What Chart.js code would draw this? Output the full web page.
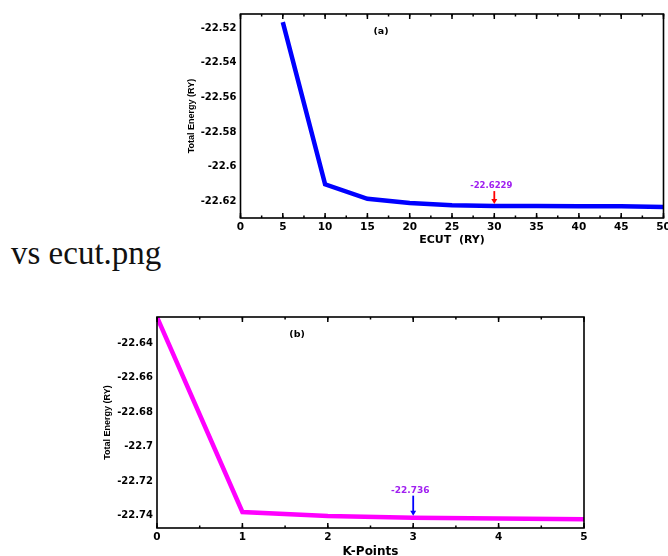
<!DOCTYPE html>
<html lang="en">
<head>
    <meta charset="UTF-8">
    <title>Total Energy vs ECUT / K-Points</title>
    <script src="https://cdn.jsdelivr.net/npm/chart.js"></script>
    <style>
        body { margin: 0; background: #fff; width: 668px; height: 556px; overflow: hidden; position: relative; }
        #ecutChart { position: absolute; left: 180px; top: 0; }
        #kChart { position: absolute; left: 95px; top: 305px; }
        .alt {
            position: absolute; left: 11px; top: 237px;
            font-family: "Liberation Serif", serif; font-size: 33px; color: #111;
            line-height: 1;
        }
    </style>
</head>
<body>
    <canvas id="ecutChart" width="488" height="250"></canvas>
    <div class="alt">vs ecut.png</div>
    <canvas id="kChart" width="505" height="256"></canvas>

    <script>
        // (a) total energy vs cutoff energy
        const ecutValues = [5, 10, 15, 20, 25, 30, 35, 40, 45, 50];
        const ecutEnergy = [-22.5164, -22.6103, -22.6187, -22.6211, -22.6224, -22.6229, -22.6229, -22.6230, -22.6230, -22.6235];
        const ecutNote = { x: 30, label: '-22.6229' };

        // (b) total energy vs k-points
        const kValues = [0, 1, 2, 3, 4, 5];
        const kEnergy = [-22.6248, -22.7378, -22.7401, -22.7411, -22.7416, -22.7420];
        const kNote = { x: 3, label: '-22.736' };

        Chart.defaults.font.family = 'DejaVu Sans';
        Chart.defaults.color = '#000';

        function fmt(v) {
            return String(Number(v.toFixed(4)));
        }

        // inward ticks on all four sides, frame, arrow note and panel letter
        const framePlugin = {
            id: 'frame',
            afterDatasetsDraw(chart, args, opts) {
                const { ctx, chartArea: a, scales: { x, y } } = chart;
                ctx.save();
                ctx.strokeStyle = '#000';
                ctx.lineWidth = 1.5;

                function seg(x1, y1, x2, y2) {
                    ctx.beginPath();
                    ctx.moveTo(x1, y1);
                    ctx.lineTo(x2, y2);
                    ctx.stroke();
                }

                function marks(scale, step, len) {
                    for (let v = scale.min; v <= scale.max + 1e-9; v += step / 10) {
                        const r = Math.round(v / step);
                        if (Math.abs(v - r * step) > step * 1e-3) continue;
                        const val = r * step;
                        if (val < scale.min - 1e-9 || val > scale.max + 1e-9) continue;
                        const p = scale.getPixelForValue(val);
                        if (scale.axis === 'x') {
                            seg(p, a.bottom, p, a.bottom - len);
                            seg(p, a.top, p, a.top + len);
                        } else {
                            seg(a.left, p, a.left + len, p);
                            seg(a.right, p, a.right - len, p);
                        }
                    }
                }
                marks(x, opts.xMinor, 2.5);
                marks(x, opts.xMajor, 5);
                marks(y, opts.yMinor, 4);
                marks(y, opts.yMajor, 5);

                ctx.lineWidth = 1.6;
                ctx.strokeRect(a.left, a.top, a.right - a.left, a.bottom - a.top);

                // note with arrow
                const note = opts.note;
                const ds = chart.data.datasets[0];
                const idx = chart.data.labels.indexOf(note.x);
                const px = x.getPixelForValue(note.x);
                const py = y.getPixelForValue(ds.data[idx]);
                const tip = py - 2;
                const tail = tip - opts.arrowLen;
                ctx.fillStyle = opts.textColor;
                ctx.font = 'bold ' + opts.noteSize + 'px DejaVu Sans';
                ctx.textAlign = 'center';
                ctx.textBaseline = 'bottom';
                ctx.fillText(note.label, px - 3, tail - 1);
                ctx.strokeStyle = opts.arrowColor;
                ctx.fillStyle = opts.arrowColor;
                ctx.lineWidth = 1.8;
                seg(px, tail, px, tip - 4);
                ctx.beginPath();
                ctx.moveTo(px - 3, tip - 5);
                ctx.lineTo(px + 3, tip - 5);
                ctx.lineTo(px, tip);
                ctx.closePath();
                ctx.fill();

                // panel letter
                ctx.fillStyle = '#000';
                ctx.font = 'bold 9.5px DejaVu Sans';
                ctx.textBaseline = 'middle';
                ctx.fillText(opts.panel, a.left + (a.right - a.left) * opts.panelX, a.top + (a.bottom - a.top) * opts.panelY);
                ctx.restore();
            }
        };

        function makeChart(id, cfg) {
            return new Chart(document.getElementById(id), {
                type: 'line',
                data: {
                    labels: cfg.xs,
                    datasets: [{
                        data: cfg.ys,
                        borderColor: cfg.color,
                        borderWidth: 4.5,
                        pointRadius: 0,
                        tension: 0,
                        fill: false
                    }]
                },
                options: {
                    responsive: false,
                    animation: false,
                    events: [],
                    layout: { padding: cfg.padding },
                    plugins: {
                        legend: { display: false },
                        tooltip: { enabled: false },
                        frame: cfg.frame
                    },
                    scales: {
                        x: {
                            type: 'linear',
                            min: cfg.xMin, max: cfg.xMax,
                            grid: { display: false, drawTicks: false },
                            border: { display: false },
                            ticks: {
                                stepSize: cfg.frame.xMajor,
                                padding: 3,
                                maxRotation: 0,
                                autoSkip: false,
                                font: { size: 10.5, weight: 'bold' }
                            },
                            title: {
                                display: true,
                                text: cfg.xTitle,
                                font: { size: cfg.xTitleSize, weight: 'bold' },
                                padding: { top: 0, bottom: cfg.xTitlePad }
                            },
                            afterFit(s) {
                                s.height = cfg.xHeight;
                                s.paddingLeft = 0;
                                s.paddingRight = 0;
                            }
                        },
                        y: {
                            min: cfg.yMin, max: cfg.yMax,
                            grid: { display: false, drawTicks: false },
                            border: { display: false },
                            ticks: {
                                stepSize: cfg.frame.yMajor,
                                includeBounds: false,
                                padding: 4,
                                font: { size: 10, weight: 'bold' },
                                callback: v => fmt(v)
                            },
                            title: {
                                display: true,
                                text: 'Total Energy (RY)',
                                font: { size: 9, weight: 'bold', family: 'Liberation Sans' },
                                padding: { top: cfg.yTitlePad, bottom: 0 }
                            },
                            afterFit(s) {
                                s.width = cfg.yWidth;
                                s.paddingTop = 0;
                                s.paddingBottom = 0;
                            }
                        }
                    }
                },
                plugins: [framePlugin]
            });
        }

        makeChart('ecutChart', {
            xs: ecutValues, ys: ecutEnergy, color: '#0000ff',
            xMin: 0, xMax: 50, yMin: -22.6298, yMax: -22.5117,
            xTitle: 'ECUT  (RY)', xTitleSize: 11, xTitlePad: 3,
            padding: { left: 0, top: 14, right: 4.5, bottom: 0 },
            xHeight: 32, yWidth: 60.5, yTitlePad: 6.5,
            frame: {
                xMajor: 5, xMinor: 2.5, yMajor: 0.02, yMinor: 0.01,
                note: ecutNote, arrowColor: '#ff0000', textColor: '#a020f0',
                arrowLen: 13, noteSize: 8.5,
                panel: '(a)', panelX: 0.332, panelY: 0.088
            }
        });

        makeChart('kChart', {
            xs: kValues, ys: kEnergy, color: '#ff00ff',
            xMin: 0, xMax: 5, yMin: -22.7471, yMax: -22.6247,
            xTitle: 'K-Points', xTitleSize: 12, xTitlePad: 2,
            padding: { left: 0, top: 12, right: 16, bottom: 0 },
            xHeight: 33, yWidth: 62, yTitlePad: 7.5,
            frame: {
                xMajor: 1, xMinor: 0.5, yMajor: 0.02, yMinor: 0.01,
                note: kNote, arrowColor: '#0000ff', textColor: '#a020f0',
                arrowLen: 20, noteSize: 9,
                panel: '(b)', panelX: 0.328, panelY: 0.085
            }
        });
    </script>
</body>
</html>
